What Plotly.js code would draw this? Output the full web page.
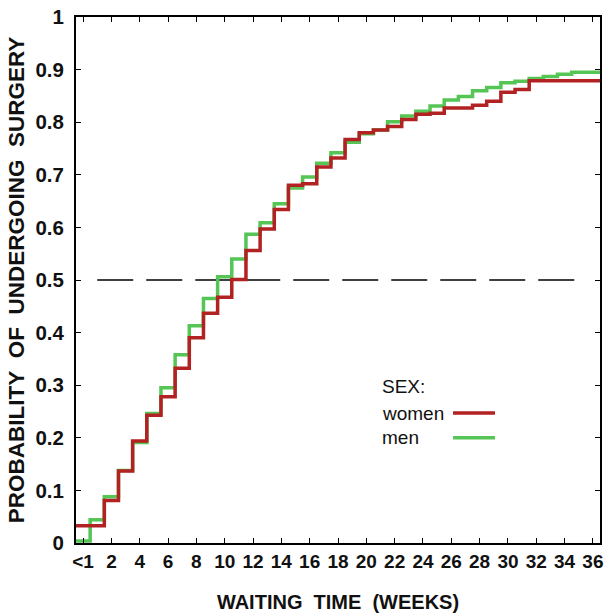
<!DOCTYPE html>
<html>
<head>
<meta charset="utf-8">
<script src="https://cdn.plot.ly/plotly-3.0.1.min.js"></script>
<style>html,body{margin:0;padding:0;background:#fff;}#chart{width:608px;height:613px;}</style>
</head>
<body>
<div id="chart"></div>
<script>
// Weeks 0..36 (0 is "<1")
var weeks = [0,1,2,3,4,5,6,7,8,9,10,11,12,13,14,15,16,17,18,19,20,21,22,23,24,25,26,27,28,29,30,31,32,33,34,35,36];
var women = [0.033,0.033,0.081,0.137,0.194,0.243,0.278,0.332,0.390,0.437,0.467,0.501,0.556,0.597,0.634,0.680,0.683,0.715,0.732,0.767,0.780,0.785,0.792,0.805,0.815,0.817,0.827,0.827,0.832,0.840,0.857,0.862,0.879,0.879,0.879,0.879,0.879];
var men = [0.004,0.044,0.088,0.138,0.191,0.246,0.295,0.358,0.413,0.465,0.506,0.540,0.587,0.609,0.645,0.675,0.696,0.722,0.742,0.762,0.778,0.785,0.801,0.812,0.821,0.831,0.842,0.849,0.860,0.866,0.875,0.878,0.883,0.887,0.891,0.895,0.895];
var xTickVals = [0,2,4,6,8,10,12,14,16,18,20,22,24,26,28,30,32,34,36];
var xTickText = ['<1','2','4','6','8','10','12','14','16','18','20','22','24','26','28','30','32','34','36'];
var yTickVals = [0,0.1,0.2,0.3,0.4,0.5,0.6,0.7,0.8,0.9,1];
var yTickText = ['0','0.1','0.2','0.3','0.4','0.5','0.6','0.7','0.8','0.9','1'];
var seriesNames = ['women','men'];
var legendTitle = 'SEX:';
var refLevel = 0.5;

var RED = '#b22222', GREEN = '#55c555';
var FAM = 'Liberation Sans, Arial, sans-serif';

function stepX(w){ var x = w.map(function(v){return v-0.5;}); x.push(w[w.length-1]+0.5); return x; }
function stepY(v){ var y = v.slice(); y.push(v[v.length-1]); return y; }

var traces = [
  {x: stepX(weeks), y: stepY(men), type:'scatter', mode:'lines', line:{shape:'hv', color:GREEN, width:3.5}, name:seriesNames[1], showlegend:false, hoverinfo:'skip'},
  {x: stepX(weeks), y: stepY(women), type:'scatter', mode:'lines', line:{shape:'hv', color:RED, width:3.5}, name:seriesNames[0], showlegend:false, hoverinfo:'skip'}
];

var fontR = {family:FAM, size:19, color:'#111'};

var layout = {
  width:608, height:613,
  margin:{l:76, r:8, t:17, b:70, pad:0},
  paper_bgcolor:'#fff', plot_bgcolor:'#fff',
  showlegend:false,
  xaxis:{
    range:[-0.5,36.5], tickvals:xTickVals, ticktext:xTickText,
    ticks:'inside', ticklen:5, tickwidth:1, tickcolor:'#000',
    showline:true, linewidth:2, linecolor:'#000', mirror:'ticks',
    showgrid:false, zeroline:false,
    tickfont:{family:FAM, size:19, color:'#111', weight:'bold'},
    title:{text:'WAITING\u00a0 TIME\u00a0 (WEEKS)', font:{family:FAM, size:20, color:'#111', weight:'bold'}, standoff:30}
  },
  yaxis:{
    range:[0,1], tickvals:yTickVals, ticktext:yTickText,
    ticks:'inside', ticklen:5, tickwidth:1, tickcolor:'#000',
    showline:true, linewidth:2, linecolor:'#000', mirror:'ticks',
    showgrid:false, zeroline:false,
    tickfont:{family:FAM, size:20.5, color:'#111', weight:'bold'},
    ticklabelstandoff:6,
    title:{text:'PROBABILITY\u00a0 OF\u00a0 UNDERGOING\u00a0 SURGERY', font:{family:FAM, size:22.5, color:'#111', weight:'bold'}, standoff:5}
  },
  shapes:[
    {type:'line', xref:'x', yref:'y', x0:1, x1:35, y0:refLevel, y1:refLevel, line:{color:'#000', width:1.5, dash:'36px,13px'}, layer:'below'},
    {type:'line', xref:'paper', yref:'paper', x0:0.7195, x1:0.7996, y0:0.247, y1:0.247, line:{color:RED, width:3.5}},
    {type:'line', xref:'paper', yref:'paper', x0:0.7195, x1:0.7996, y0:0.200, y1:0.200, line:{color:GREEN, width:3.5}}
  ],
  annotations:[
    {xref:'paper', yref:'paper', x:0.58, y:0.2966, xanchor:'left', yanchor:'middle', text:legendTitle, showarrow:false, font:fontR},
    {xref:'paper', yref:'paper', x:0.58, y:0.247, xanchor:'left', yanchor:'middle', text:seriesNames[0], showarrow:false, font:fontR},
    {xref:'paper', yref:'paper', x:0.58, y:0.200, xanchor:'left', yanchor:'middle', text:seriesNames[1], showarrow:false, font:fontR}
  ]
};

Plotly.newPlot('chart', traces, layout, {staticPlot:true, displayModeBar:false});
</script>
</body>
</html>
